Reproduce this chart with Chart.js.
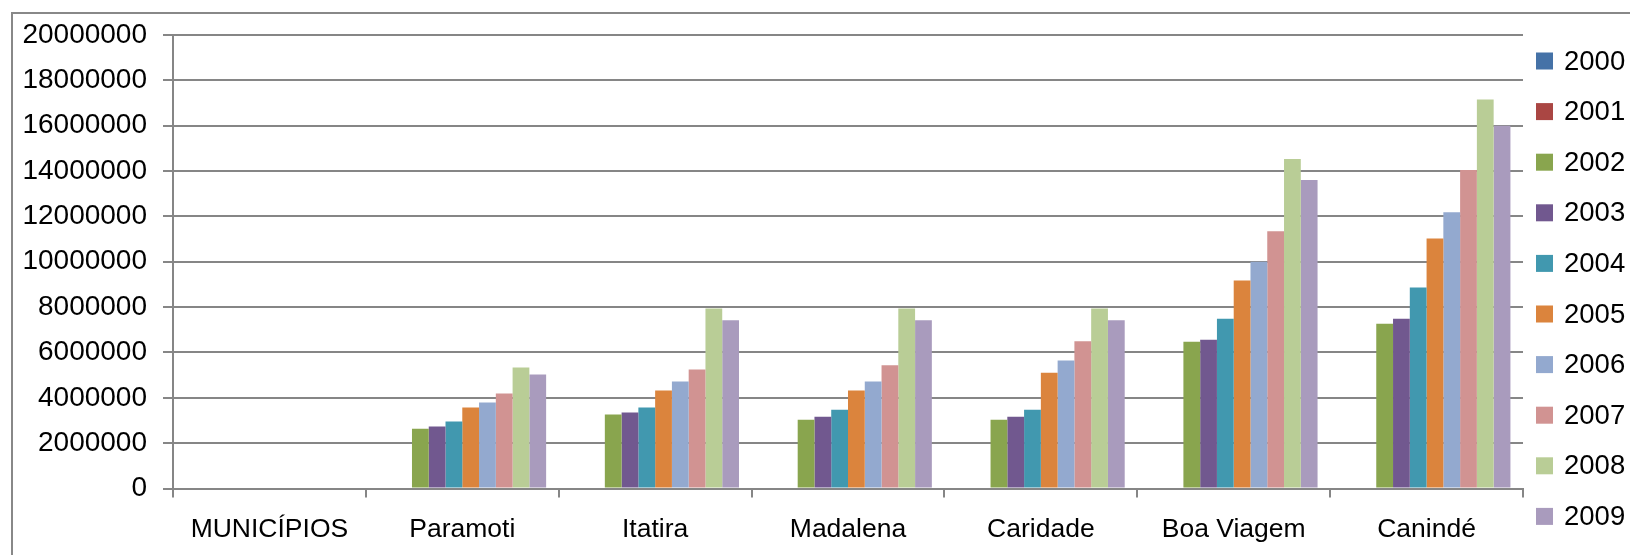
<!DOCTYPE html>
<html>
<head>
<meta charset="utf-8">
<script src="https://cdn.jsdelivr.net/npm/chart.js@4/dist/chart.umd.min.js"></script>
<style>
  body { margin: 0; overflow: hidden; background: #fff; }
  #wrap { position: relative; width: 1630px; height: 555px; }
  #frame { position: absolute; left: 11px; top: 12px; width: 1700px; height: 700px;
           border: 2px solid #888; pointer-events: none; }
</style>
</head>
<body>
<div id="wrap">
  <canvas id="myChart" width="1630" height="555"></canvas>
  <div id="frame"></div>
</div>
<script>
// categorias (municípios)
const labels = ["MUNICÍPIOS", "Paramoti", "Itatira", "Madalena", "Caridade", "Boa Viagem", "Canindé"];
const years = ["2000", "2001", "2002", "2003", "2004", "2005", "2006", "2007", "2008", "2009"];

// valores
const v2000 = [null, null, null, null, null, null, null];
const v2001 = [null, null, null, null, null, null, null];
const v2002 = [null, 2640000, 3260000, 3030000, 3030000, 6470000, 7270000];
const v2003 = [null, 2730000, 3350000, 3160000, 3160000, 6560000, 7490000];
const v2004 = [null, 2950000, 3570000, 3470000, 3470000, 7490000, 8860000];
const v2005 = [null, 3570000, 4320000, 4320000, 5110000, 9170000, 11030000];
const v2006 = [null, 3790000, 4720000, 4720000, 5640000, 10000000, 12180000];
const v2007 = [null, 4190000, 5250000, 5430000, 6490000, 11350000, 14050000];
const v2008 = [null, 5340000, 7940000, 7940000, 7940000, 14530000, 17150000];
const v2009 = [null, 5030000, 7420000, 7420000, 7420000, 13600000, 16000000];

const yTicks = [0, 2000000, 4000000, 6000000, 8000000, 10000000, 12000000, 14000000, 16000000, 18000000, 20000000];

const colors = ["#4572A7", "#AA4643", "#89A54E", "#71588F", "#4198AF", "#DB843D", "#93A9CF", "#D19392", "#B9CD96", "#A99BBD"];
const values = [v2000, v2001, v2002, v2003, v2004, v2005, v2006, v2007, v2008, v2009];

const FONT = '"Liberation Sans", Arial, sans-serif';
const GRID = "#868686";

//データの準備
const data = { labels: labels, datasets: [] };
for (var j = 0; j < years.length; j++) {
  data.datasets.push({
    label: years[j],
    data: values[j],
    backgroundColor: colors[j],
    borderWidth: 0,
  });
}

// legenda à direita
const sideLegend = {
  id: "sideLegend",
  afterDraw: (chart) => {
    const ctx = chart.ctx;
    ctx.save();
    ctx.font = "27.5px " + FONT;
    ctx.textBaseline = "middle";
    ctx.textAlign = "left";
    chart.data.datasets.forEach((ds, i) => {
      const y = 61 + i * 50.6;
      ctx.fillStyle = ds.backgroundColor;
      ctx.fillRect(1536, y - 8.5, 17, 17);
      ctx.fillStyle = "#000";
      ctx.fillText(ds.label, 1564, y + 1);
    });
    ctx.restore();
  },
};

const config = {
  type: "bar",
  data: data,
  plugins: [sideLegend],
  options: {
    responsive: false,
    animation: false,
    layout: { padding: { left: 13, right: 107, top: 35, bottom: 0 } },
    plugins: { legend: { display: false }, tooltip: { enabled: false } },
    datasets: { bar: { categoryPercentage: 10 / 11.5, barPercentage: 1 } },
    scales: {
      x: {
        grid: { drawOnChartArea: false, offset: true, color: GRID, lineWidth: 2, tickLength: 9 },
        border: { color: GRID, width: 2 },
        ticks: { color: "#000", font: { family: FONT, size: 26.5 }, padding: 16, maxRotation: 0, autoSkip: false },
        afterFit: (s) => { s.height = 555 - 488.5; },
      },
      y: {
        min: 0,
        max: 20000000,
        afterBuildTicks: (s) => { s.ticks = yTicks.map((v) => ({ value: v })); },
        grid: { color: GRID, lineWidth: 2, tickLength: 10 },
        border: { color: GRID, width: 2 },
        ticks: { color: "#000", font: { family: FONT, size: 28 }, padding: 16, callback: (v) => String(v) },
        afterFit: (s) => { s.width = 160; },
      },
    },
  },
};
new Chart(document.getElementById("myChart"), config);
</script>
</body>
</html>
